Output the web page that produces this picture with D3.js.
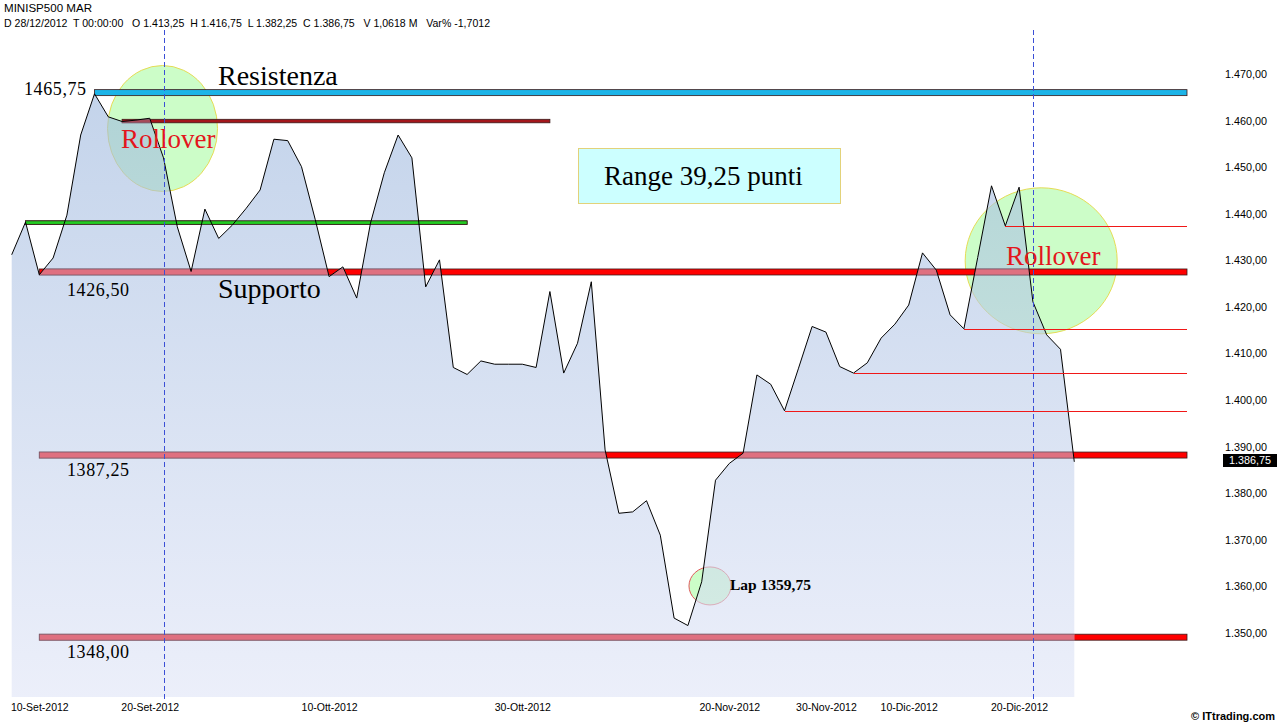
<!DOCTYPE html>
<html>
<head>
<meta charset="utf-8">
<script src="https://cdn.jsdelivr.net/npm/d3@7.9.0/dist/d3.min.js"></script>
<style>
body { margin: 0; background: #fff; }
svg { display: block; }
</style>
</head>
<body>
<svg id="chart"></svg>
<script>
// MINISP500 MAR daily closes, 06/09/2012 -> 28/12/2012
const closes = [
    1431.2, 1438.2, 1426.9, 1430.5, 1439.7, 1456.9, 1465.75, 1460.8, 1459.8, 1460.1,
    1460.5, 1452.0, 1437.2, 1427.6, 1441.0, 1434.7, 1437.6, 1441.2, 1445.1, 1456.0,
    1455.7, 1450.1, 1438.7, 1426.5, 1428.6, 1421.9, 1438.0, 1448.8, 1456.9, 1452.0,
    1424.3, 1430.1, 1407.0, 1405.5, 1408.4, 1407.7, 1407.7, 1407.7, 1407.0, 1423.3,
    1405.8, 1412.2, 1425.4, 1389.3, 1375.7, 1376.0, 1378.4, 1371.0, 1353.2, 1351.6,
    1361.0, 1382.8, 1386.4, 1388.6, 1405.4, 1403.4, 1397.7, 1406.7, 1415.8, 1414.6,
    1407.2, 1405.8, 1408.0, 1413.3, 1416.3, 1420.4, 1431.6, 1427.9, 1418.3, 1415.3,
    1430.6, 1446.0, 1437.4, 1445.7, 1421.1, 1414.0, 1410.9, 1386.75
];

// x axis: bar index of each labelled day
const dateTicks = [2, 10, 23, 37, 52, 59, 65, 73];
const dateLabels = ['10-Set-2012', '20-Set-2012', '10-Ott-2012', '30-Ott-2012',
    '20-Nov-2012', '30-Nov-2012', '10-Dic-2012', '20-Dic-2012'];
const priceTicks = [1350, 1360, 1370, 1380, 1390, 1400, 1410, 1420, 1430, 1440, 1450, 1460, 1470];

// expiry days (dashed verticals)
const rolloverBars = [11, 74];

// hand drawn levels: value, first bar, last bar (null = right edge), kind
const levelValues = [1466.0, 1459.9, 1438.1, 1427.5, 1388.2, 1349.1];
const levelStart = [6, 8, 1, 2, 2, 2];
const levelEnd = [null, 39, 33, null, null, null];
const levelKinds = ['blue', 'darkred', 'green', 'red', 'red', 'red'];

// thin red lines start at these bars and run at their close
const thinStart = [72, 69, 61, 56];

const width = 1277;
const height = 725;
const rightEdge = 1187;
const plotBottom = 697;

const serif = '"Liberation Serif", "Times New Roman", serif';
const sans = '"Liberation Sans", Arial, sans-serif';

const fmt = d3.formatLocale({ decimal: ',', thousands: '.', grouping: [3], currency: ['', ''] }).format(',.2f');

const svg = d3.select('#chart')
    .attr('width', width)
    .attr('height', height)
    .attr('viewBox', [0, 0, width, height]);

const x = d3.scaleLinear().domain([0, closes.length - 1]).range([11.7, 1074.3]);
const y = d3.scaleLinear().domain([1350, 1470]).range([633, 74]);

const area = d3.area()
    .x((d, i) => x(i))
    .y0(plotBottom)
    .y1(d => y(d));

const defs = svg.append('defs');
const grad = defs.append('linearGradient')
    .attr('id', 'areaGrad')
    .attr('gradientUnits', 'userSpaceOnUse')
    .attr('x1', 0).attr('x2', 0)
    .attr('y1', 90).attr('y2', plotBottom);
grad.append('stop').attr('offset', 0).attr('stop-color', '#9fb9de').attr('stop-opacity', 0.62);
grad.append('stop').attr('offset', 1).attr('stop-color', '#e0e5f7').attr('stop-opacity', 0.62);

defs.append('clipPath')
    .attr('id', 'areaClip')
    .append('path')
    .datum(closes)
    .attr('d', area);

// rollover circles sit under the area
const blobs = svg.append('g');
blobs.append('ellipse')
    .attr('cx', x(10.93)).attr('cy', y(1458.3))
    .attr('rx', 55).attr('ry', 63)
    .attr('fill', '#ccfdc8').attr('stroke', '#e6dc55');
blobs.append('ellipse')
    .attr('cx', x(74.6)).attr('cy', y(1429.9))
    .attr('rx', 76).attr('ry', 73)
    .attr('fill', '#ccfdc8').attr('stroke', '#e6dc55');
blobs.append('ellipse')
    .attr('cx', x(50.6)).attr('cy', y(1360.1))
    .attr('rx', 21).attr('ry', 19)
    .attr('fill', '#ccfdc8').attr('stroke', '#e05a5a');

const levelStyle = {
    blue: { fill: '#1cb4e8', under: '#1cb4e8', h: 6 },
    darkred: { fill: '#a3161b', under: '#a64a5a', h: 3.5 },
    green: { fill: '#22cc22', under: '#22cc22', h: 3.5 },
    red: { fill: '#ff0000', under: '#df7080', h: 6 }
};

function drawLevel(g, i, muted) {
    const s = levelStyle[levelKinds[i]];
    const x0 = x(levelStart[i]);
    const x1 = levelEnd[i] === null ? rightEdge : x(levelEnd[i]);
    g.append('rect')
        .attr('x', x0)
        .attr('y', y(levelValues[i]) - s.h / 2)
        .attr('width', x1 - x0)
        .attr('height', s.h)
        .attr('fill', muted ? s.under : s.fill)
        .attr('stroke', muted ? '#7c5866' : '#3a1a1a')
        .attr('stroke-width', 0.8);
}

const levels = svg.append('g');
levelKinds.forEach((k, i) => drawLevel(levels, i, false));

svg.append('path')
    .datum(closes)
    .attr('d', area)
    .attr('fill', 'url(#areaGrad)');

// parts of the red levels behind the area look washed out
const mutedLevels = svg.append('g').attr('clip-path', 'url(#areaClip)');
levelKinds.forEach((k, i) => { if (k === 'red' || k === 'darkred') drawLevel(mutedLevels, i, true); });

const greenLevels = svg.append('g');
levelKinds.forEach((k, i) => { if (k === 'green') drawLevel(greenLevels, i, false); });

svg.append('path')
    .datum(closes)
    .attr('d', d3.line().x((d, i) => x(i)).y(d => y(d)))
    .attr('fill', 'none')
    .attr('stroke', '#000')
    .attr('stroke-width', 1);

svg.append('g')
    .attr('shape-rendering', 'crispEdges')
    .selectAll('line')
    .data(thinStart)
    .join('line')
    .attr('x1', d => x(d))
    .attr('x2', rightEdge)
    .attr('y1', d => Math.round(y(closes[d])) + 0.5)
    .attr('y2', d => Math.round(y(closes[d])) + 0.5)
    .attr('stroke', '#f01818')
    .attr('stroke-width', 1);

svg.append('g')
    .selectAll('line')
    .data(rolloverBars)
    .join('line')
    .attr('x1', d => Math.round(x(d)) + 0.5)
    .attr('x2', d => Math.round(x(d)) + 0.5)
    .attr('y1', 30)
    .attr('y2', plotBottom + 3)
    .attr('stroke', '#3b4fd6')
    .attr('stroke-width', 1)
    .attr('stroke-dasharray', '5,3');

// annotation texts
const notes = svg.append('g').attr('font-family', serif);

notes.append('text').attr('x', 218).attr('y', 85).attr('font-size', 28).text('Resistenza');
notes.append('text').attr('x', 218).attr('y', 298).attr('font-size', 28).text('Supporto');
notes.append('text').attr('x', 121).attr('y', 148).attr('font-size', 27).attr('fill', '#e3161c').text('Rollover');
notes.append('text').attr('x', 1006).attr('y', 265).attr('font-size', 27).attr('fill', '#e3161c').text('Rollover');

notes.append('rect')
    .attr('x', 578.5).attr('y', 148.5)
    .attr('width', 262).attr('height', 55)
    .attr('fill', '#ccffff').attr('stroke', '#e2d27a');
notes.append('text').attr('x', 604).attr('y', 185).attr('font-size', 27).text('Range 39,25 punti');

const levelText = notes.append('g').attr('font-size', 18).attr('letter-spacing', 0.6);
levelText.append('text').attr('x', 24).attr('y', 95).text('1465,75');
levelText.append('text').attr('x', 67).attr('y', 296).text('1426,50');
levelText.append('text').attr('x', 67).attr('y', 476).text('1387,25');
levelText.append('text').attr('x', 67).attr('y', 658).text('1348,00');

notes.append('text').attr('x', 730).attr('y', 590)
    .attr('font-size', 15.5).attr('font-weight', 'bold').text('Lap 1359,75');

// axes
const yAxis = svg.append('g')
    .attr('transform', 'translate(1219,0)')
    .call(d3.axisRight(y).tickValues(priceTicks).tickSize(0).tickPadding(6).tickFormat(fmt))
    .call(g => g.select('.domain').remove());
yAxis.attr('font-family', sans).attr('font-size', 10.8);
yAxis.selectAll('text').attr('fill', '#000');

const xAxis = svg.append('g')
    .attr('transform', `translate(0,${plotBottom})`)
    .call(d3.axisBottom(x).tickValues(dateTicks).tickSize(0).tickPadding(7).tickFormat((d, i) => dateLabels[i]))
    .call(g => g.select('.domain').remove());
xAxis.attr('font-family', sans).attr('font-size', 10.5);
xAxis.selectAll('text').attr('fill', '#000');

// last price tag
const last = closes[closes.length - 1];
svg.append('rect')
    .attr('x', 1223).attr('y', Math.round(y(last)) - 8)
    .attr('width', 54).attr('height', 13)
    .attr('fill', '#000');
svg.append('text')
    .attr('x', 1250).attr('y', Math.round(y(last)) - 1.5)
    .attr('dy', '0.35em')
    .attr('text-anchor', 'middle')
    .attr('font-family', sans).attr('font-size', 10.8)
    .attr('fill', '#fff')
    .text(fmt(last));

// header
const head = svg.append('g').attr('font-family', sans).attr('font-size', 11).attr('fill', '#000');
head.append('text').attr('x', 4).attr('y', 12)
    .attr('textLength', 88).attr('lengthAdjust', 'spacingAndGlyphs')
    .text('MINISP500 MAR');
head.append('text').attr('x', 4).attr('y', 27).attr('xml:space', 'preserve')
    .attr('textLength', 486).attr('lengthAdjust', 'spacingAndGlyphs')
    .text('D 28/12/2012  T 00:00:00   O 1.413,25  H 1.416,75  L 1.382,25  C 1.386,75   V 1,0618 M   Var% -1,7012');

svg.append('text')
    .attr('x', 1275).attr('y', 720)
    .attr('text-anchor', 'end')
    .attr('font-family', sans).attr('font-size', 11).attr('font-weight', 'bold')
    .text('© ITtrading.com');
</script>
</body>
</html>
